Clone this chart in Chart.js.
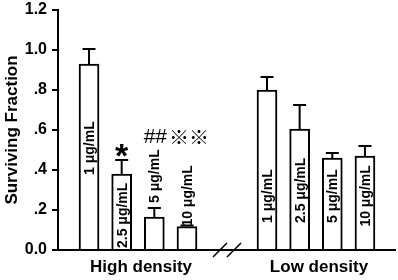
<!DOCTYPE html>
<html>
<head>
<meta charset="utf-8">
<script src="https://cdn.jsdelivr.net/npm/chart.js@4"></script>
<style>
  body { margin: 0; background: #fff; }
</style>
</head>
<body>
<canvas id="survivalChart" width="398" height="280"></canvas>
<script>
// Chart data
const doses = ["1 μg/mL", "2.5 μg/mL", "5 μg/mL", "10 μg/mL"];
const groupNames = ["High density", "Low density"];
const highPos = [1, 2, 3, 4];
const lowPos = [6.45, 7.45, 8.45, 9.45];
const highDensity = [0.93, 0.38, 0.165, 0.117];
const highErr = [0.075, 0.07, 0.045, 0.006];
const lowDensity = [0.8, 0.605, 0.46, 0.47];
const lowErr = [0.065, 0.12, 0.025, 0.05];
// where each dose label starts (value units)
const highLabelAt = [0.375, 0.01, 0.235, 0.117];
const lowLabelAt = [0.135, 0.135, 0.135, 0.117];
const yTicks = [0, 0.2, 0.4, 0.6, 0.8, 1.0, 1.2];

const FONT = "'Liberation Sans', Arial, sans-serif";

const groups = [
  { name: groupNames[0], pos: highPos, values: highDensity, err: highErr, labelAt: highLabelAt },
  { name: groupNames[1], pos: lowPos, values: lowDensity, err: lowErr, labelAt: lowLabelAt },
];

function fmtTick(v) {
  if (Math.abs(v) < 1e-9) return "0.0";
  const s = v.toFixed(1);
  return v < 1 ? s.replace(/^0/, "") : s;
}

const annotate = {
  id: "annotate",
  afterDatasetsDraw(chart) {
    const { ctx, scales: { x, y } } = chart;
    ctx.save();
    ctx.strokeStyle = "#000";
    ctx.fillStyle = "#000";
    ctx.lineWidth = 2;

    groups.forEach((g, di) => {
      const meta = chart.getDatasetMeta(di);
      meta.data.forEach((bar, i) => {
        // upper error bar
        const top = y.getPixelForValue(g.values[i] + g.err[i]);
        ctx.beginPath();
        ctx.moveTo(bar.x, bar.y);
        ctx.lineTo(bar.x, top);
        ctx.moveTo(bar.x - 6.5, top);
        ctx.lineTo(bar.x + 6.5, top);
        ctx.stroke();

        // dose label, rotated
        ctx.save();
        ctx.translate(bar.x + 1, y.getPixelForValue(g.labelAt[i]));
        ctx.rotate(-Math.PI / 2);
        ctx.font = "bold 14px " + FONT;
        ctx.textAlign = "left";
        ctx.textBaseline = "middle";
        ctx.fillText(doses[i], 0, 0);
        ctx.restore();
      });
    });

    // significance marks
    const high = chart.getDatasetMeta(0).data;
    const starTop = y.getPixelForValue(highDensity[1] + highErr[1]);
    ctx.font = "bold 34px " + FONT;
    ctx.textAlign = "center";
    ctx.textBaseline = "alphabetic";
    ctx.fillText("*", high[1].x, starTop + 7);

    const markY = y.getPixelForValue(0.565);
    ctx.textBaseline = "middle";
    ctx.font = "21px " + FONT;
    ctx.fillText("##", high[2].x + 1, markY);
    ctx.font = "20px 'Noto Sans CJK JP', sans-serif";
    ctx.fillText("※※", high[3].x + 2, markY);

    // axis break
    const bx = x.getPixelForValue((highPos[3] + lowPos[0]) / 2);
    const by = chart.chartArea.bottom;
    ctx.lineWidth = 1.5;
    [-7, 7].forEach((off) => {
      ctx.beginPath();
      ctx.moveTo(bx + off - 7, by + 7);
      ctx.lineTo(bx + off + 7, by - 7);
      ctx.stroke();
    });

    // group labels
    ctx.font = "bold 17px " + FONT;
    ctx.textBaseline = "middle";
    groups.forEach((g) => {
      const mid = (g.pos[0] + g.pos[g.pos.length - 1]) / 2;
      ctx.fillText(g.name, x.getPixelForValue(mid) + 3, by + 17);
    });
    ctx.restore();
  },
};

const barStyle = {
  backgroundColor: "#fff",
  borderColor: "#000",
  borderWidth: 2,
  barThickness: 20,
};

new Chart(document.getElementById("survivalChart"), {
  type: "bar",
  data: {
    datasets: groups.map((g) => ({
      label: g.name,
      data: g.values.map((v, i) => ({ x: g.pos[i], y: v })),
      ...barStyle,
    })),
  },
  options: {
    responsive: false,
    animation: false,
    layout: { padding: { top: 0, right: 3 } },
    plugins: {
      legend: { display: false },
      tooltip: { enabled: false },
    },
    scales: {
      x: {
        type: "linear",
        min: 0.05,
        max: 10.37,
        offset: false,
        grid: { display: false },
        ticks: { display: false },
        border: { display: true, color: "#000", width: 2 },
        afterFit: (s) => { s.height = 30; },
      },
      y: {
        min: 0,
        max: 1.2,
        afterBuildTicks: (s) => { s.ticks = yTicks.map((v) => ({ value: v })); },
        ticks: {
          color: "#000",
          padding: 5,
          font: { family: FONT, size: 16, weight: "bold", lineHeight: 1 },
          callback: (v) => fmtTick(v),
        },
        grid: {
          display: true,
          drawOnChartArea: false,
          drawTicks: true,
          tickLength: 6,
          color: "#000",
          lineWidth: 2,
        },
        border: { display: true, color: "#000", width: 2 },
        title: {
          display: true,
          text: "Surviving Fraction",
          color: "#000",
          padding: { top: 2, bottom: 0 },
          font: { family: FONT, size: 17, weight: "bold" },
        },
        afterFit: (s) => { s.width = 58; s.paddingTop = 10; },
      },
    },
    datasets: { bar: { grouped: false } },
  },
  plugins: [annotate],
});
</script>
</body>
</html>
